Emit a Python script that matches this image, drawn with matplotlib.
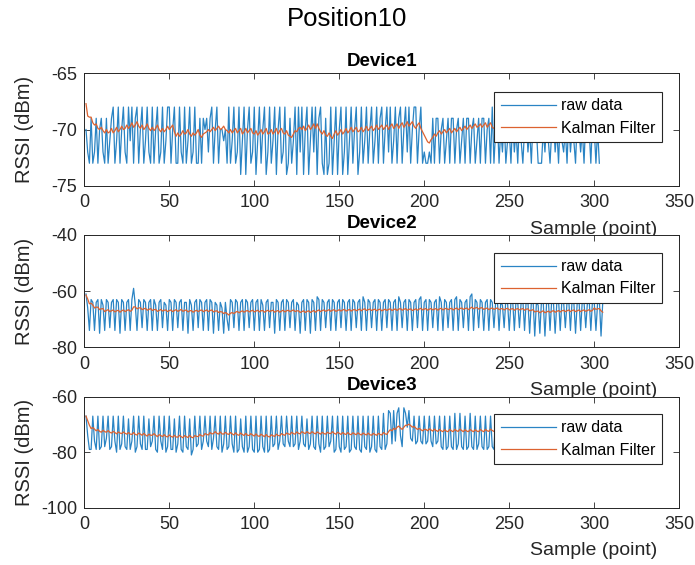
import numpy as np
import matplotlib
matplotlib.use("Agg")
import matplotlib.pyplot as plt

plt.rcParams['font.family'] = ['Liberation Sans', 'DejaVu Sans']
plt.rcParams['axes.unicode_minus'] = False

# ---- data ----
devices = ['Device1', 'Device2', 'Device3']

d1_raw = [
    -70, -72, -73, -69, -73, -72, -69, -73, -70, -69,
    -72, -73, -69, -73, -71, -69, -68, -73, -71, -68,
    -73, -70, -68, -72, -73, -68, -71, -68, -73, -69,
    -68, -73, -70, -68, -73, -71, -68, -72, -73, -68,
    -73, -70, -68, -73, -72, -68, -73, -71, -68, -68,
    -73, -70, -68, -73, -73, -68, -72, -73, -68, -73,
    -71, -68, -73, -72, -68, -73, -73, -69, -73, -69,
    -70, -69, -72, -69, -68, -73, -70, -68, -73, -70,
    -70, -71, -70, -73, -68, -73, -71, -68, -73, -72,
    -68, -74, -71, -68, -74, -70, -68, -73, -72, -68,
    -74, -71, -68, -73, -70, -68, -74, -72, -68, -73,
    -71, -68, -74, -70, -68, -73, -72, -68, -74, -73,
    -69, -73, -71, -68, -74, -68, -72, -68, -74, -70,
    -68, -74, -71, -68, -72, -68, -74, -69, -68, -73,
    -74, -69, -74, -73, -68, -74, -71, -68, -74, -70,
    -68, -74, -72, -68, -74, -71, -68, -73, -70, -68,
    -74, -72, -68, -73, -71, -68, -73, -70, -68, -73,
    -71, -68, -73, -69, -68, -73, -70, -68, -72, -68,
    -73, -71, -68, -73, -69, -68, -73, -70, -68, -72,
    -68, -73, -70, -68, -68, -73, -70, -68, -73, -72,
    -73, -73, -72, -73, -69, -73, -69, -69, -73, -70,
    -69, -73, -71, -69, -73, -69, -69, -73, -70, -69,
    -73, -71, -69, -73, -69, -69, -73, -70, -69, -73,
    -71, -69, -73, -69, -69, -73, -70, -69, -73, -68,
    -73, -70, -69, -73, -70, -72, -69, -73, -71, -70,
    -73, -69, -72, -70, -73, -69, -71, -73, -70, -69,
    -72, -70, -73, -69, -71, -70, -73, -73, -73, -70,
    -72, -69, -71, -73, -70, -69, -72, -70, -73, -69,
    -71, -72, -70, -73, -69, -72, -70, -71, -73, -69,
    -70, -72, -70, -73, -69, -71, -70, -73, -69, -70,
    -73, -70, -73,
]

d1_kalman = [
    -67.7, -68.8, -68.9, -68.9, -69.4, -69.6, -69.5, -69.9, -70.0, -69.8,
    -70.1, -70.3, -70.0, -70.3, -70.2, -69.9, -70.3, -70.1, -69.8, -70.2,
    -70.0, -69.7, -70.0, -69.9, -69.6, -69.9, -69.7, -69.4, -69.8, -69.6,
    -69.3, -69.7, -69.9, -69.6, -70.0, -69.8, -69.5, -69.9, -70.1, -69.8,
    -70.1, -69.9, -69.6, -70.0, -70.2, -69.9, -70.2, -70.0, -69.7, -70.0,
    -69.8, -69.6, -70.2, -70.6, -70.3, -70.6, -70.4, -70.1, -70.4, -70.3,
    -70.0, -70.4, -70.6, -70.3, -70.5, -70.3, -70.0, -70.5, -70.7, -70.4,
    -70.3, -70.2, -70.0, -70.2, -70.0, -69.8, -70.1, -69.9, -69.7, -70.0,
    -69.9, -69.7, -70.0, -70.1, -70.3, -70.0, -70.3, -70.1, -69.9, -70.3,
    -70.1, -69.9, -70.4, -70.2, -69.9, -70.3, -70.1, -69.9, -70.3, -70.4,
    -70.1, -70.5, -70.3, -70.0, -70.4, -70.2, -69.9, -70.4, -70.3, -70.0,
    -70.4, -70.2, -69.9, -70.4, -70.1, -69.9, -70.3, -70.4, -70.1, -70.5,
    -70.6, -70.7, -70.4, -70.1, -70.2, -69.9, -69.8, -70.0, -69.7, -70.1,
    -69.9, -69.6, -70.0, -69.8, -69.5, -69.9, -69.5, -69.9, -70.2, -70.4,
    -70.1, -70.5, -70.6, -70.3, -70.6, -70.8, -70.4, -70.1, -70.5, -70.3,
    -70.0, -70.4, -70.2, -69.9, -70.3, -70.1, -69.8, -70.2, -70.0, -69.8,
    -70.2, -70.1, -69.8, -70.2, -70.0, -69.7, -70.1, -69.9, -69.7, -70.1,
    -69.9, -69.6, -70.0, -69.8, -69.6, -70.0, -69.8, -69.6, -70.0, -69.7,
    -69.5, -69.9, -69.7, -69.5, -69.9, -69.6, -69.4, -69.8, -69.6, -69.3,
    -69.7, -69.5, -69.3, -69.7, -69.9, -69.6, -69.4, -69.9, -70.2, -70.5,
    -70.8, -71.1, -71.2, -70.9, -70.7, -70.4, -70.6, -70.3, -70.1, -70.4,
    -70.2, -70.0, -70.3, -70.1, -69.9, -70.3, -70.1, -69.9, -70.2, -70.0,
    -69.8, -70.1, -69.9, -69.7, -70.0, -69.8, -69.6, -69.9, -69.7, -69.5,
    -69.8, -69.7, -69.5, -69.8, -69.6, -69.4, -69.8, -69.6, -69.4, -69.8,
    -69.9, -69.7, -70.0, -70.2, -69.9, -70.2, -70.0, -69.8, -70.2, -70.0,
    -70.3, -70.1, -69.9, -70.2, -70.0, -70.3, -70.1, -69.9, -70.2, -70.0,
    -70.3, -70.1, -70.4, -70.2, -70.5, -70.6, -70.7, -70.4, -70.2, -70.5,
    -70.3, -70.1, -70.4, -70.2, -70.0, -70.3, -70.1, -69.9, -70.2, -70.0,
    -70.3, -70.1, -70.4, -70.2, -70.0, -70.3, -70.1, -70.4, -70.2, -70.0,
    -70.3, -70.1, -70.4, -70.2, -70.0, -70.3, -70.1, -70.4, -70.2, -70.0,
    -70.3, -70.1, -70.2,
]

d2_raw = [
    -61, -66, -74, -63, -64, -74, -64, -63, -75, -63,
    -65, -74, -63, -64, -73, -64, -63, -74, -63, -64,
    -75, -63, -64, -74, -64, -63, -74, -63, -59, -65,
    -74, -63, -64, -73, -63, -64, -74, -64, -63, -74,
    -63, -65, -74, -64, -63, -73, -64, -65, -74, -63,
    -64, -74, -63, -64, -73, -64, -63, -74, -64, -64,
    -75, -63, -65, -74, -64, -63, -73, -63, -64, -74,
    -64, -63, -74, -63, -64, -75, -64, -65, -74, -64,
    -66, -75, -64, -70, -74, -63, -64, -73, -63, -64,
    -74, -64, -63, -74, -63, -64, -73, -64, -63, -74,
    -64, -63, -74, -63, -65, -74, -64, -63, -73, -64,
    -64, -75, -63, -64, -74, -64, -63, -74, -63, -64,
    -73, -64, -63, -74, -64, -65, -75, -64, -63, -74,
    -63, -64, -75, -63, -64, -74, -62, -63, -74, -63,
    -64, -73, -64, -63, -74, -63, -64, -74, -64, -63,
    -73, -63, -64, -74, -64, -63, -74, -63, -64, -73,
    -64, -63, -74, -62, -64, -74, -63, -64, -73, -64,
    -63, -74, -63, -64, -74, -64, -63, -73, -63, -64,
    -74, -64, -63, -74, -62, -64, -73, -64, -63, -74,
    -63, -64, -74, -64, -63, -73, -63, -62, -74, -64,
    -63, -74, -63, -64, -73, -64, -63, -74, -62, -64,
    -74, -63, -64, -73, -64, -63, -74, -63, -62, -74,
    -63, -64, -73, -64, -63, -74, -62, -61, -74, -63,
    -64, -73, -63, -64, -74, -64, -63, -74, -63, -64,
    -73, -64, -63, -74, -64, -65, -73, -63, -64, -74,
    -64, -63, -74, -63, -64, -73, -64, -63, -74, -63,
    -64, -75, -64, -63, -76, -64, -65, -75, -63, -64,
    -76, -64, -63, -74, -63, -64, -75, -64, -63, -74,
    -63, -64, -73, -64, -63, -74, -63, -64, -75, -64,
    -63, -74, -63, -64, -73, -64, -63, -74, -63, -64,
    -74, -64, -63, -76, -64,
]

d2_kalman = [
    -61.4, -62.8, -64.5, -64.3, -64.9, -66.0, -65.7, -65.7, -66.6, -66.3,
    -66.2, -67.3, -66.9, -66.6, -67.3, -67.0, -66.7, -67.4, -67.0, -66.8,
    -67.5, -67.0, -66.7, -67.3, -66.9, -66.6, -67.2, -66.8, -65.6, -65.6,
    -66.3, -66.0, -65.9, -66.6, -66.3, -66.1, -66.8, -66.5, -66.2, -66.9,
    -66.6, -66.5, -67.2, -66.9, -66.5, -67.1, -66.8, -66.7, -67.3, -66.9,
    -66.7, -67.3, -66.9, -66.6, -67.2, -66.9, -66.5, -67.2, -66.9, -66.7,
    -67.4, -67.0, -66.9, -67.5, -67.1, -66.8, -67.3, -66.9, -66.7, -67.3,
    -67.0, -66.7, -67.3, -66.9, -66.7, -67.4, -67.1, -67.0, -67.6, -67.3,
    -67.4, -68.0, -67.6, -68.0, -68.5, -67.9, -67.6, -68.0, -67.5, -67.2,
    -67.7, -67.3, -67.0, -67.5, -67.1, -66.9, -67.4, -67.1, -66.8, -67.4,
    -67.1, -66.8, -67.4, -67.0, -66.9, -67.5, -67.1, -66.8, -67.3, -67.0,
    -66.8, -67.5, -67.1, -66.9, -67.5, -67.1, -66.8, -67.4, -67.0, -66.8,
    -67.3, -67.0, -66.7, -67.3, -67.0, -67.0, -67.6, -67.3, -67.0, -67.6,
    -67.2, -67.0, -67.6, -67.2, -66.9, -67.5, -67.0, -66.7, -67.3, -66.9,
    -66.7, -67.2, -66.9, -66.6, -67.2, -66.8, -66.6, -67.2, -66.9, -66.6,
    -67.1, -66.7, -66.5, -67.1, -66.8, -66.5, -67.1, -66.7, -66.5, -67.0,
    -66.7, -66.4, -67.0, -66.5, -66.3, -66.9, -66.6, -66.4, -66.9, -66.6,
    -66.4, -67.0, -66.6, -66.4, -67.0, -66.7, -66.4, -66.9, -66.5, -66.3,
    -66.9, -66.6, -66.3, -66.9, -66.4, -66.2, -66.8, -66.5, -66.2, -66.8,
    -66.5, -66.3, -66.9, -66.6, -66.3, -66.8, -66.4, -66.1, -66.7, -66.4,
    -66.2, -66.8, -66.4, -66.2, -66.7, -66.4, -66.2, -66.8, -66.3, -66.1,
    -66.7, -66.3, -66.1, -66.6, -66.3, -66.1, -66.7, -66.3, -66.0, -66.6,
    -66.2, -66.0, -66.5, -66.2, -66.0, -66.6, -66.1, -65.7, -66.3, -66.0,
    -65.8, -66.4, -66.0, -65.9, -66.5, -66.2, -66.0, -66.6, -66.2, -66.0,
    -66.5, -66.2, -66.0, -66.6, -66.3, -66.2, -66.7, -66.3, -66.1, -66.7,
    -66.4, -66.2, -66.8, -66.4, -66.2, -66.7, -66.4, -66.2, -66.8, -66.4,
    -66.3, -67.0, -66.8, -66.6, -67.4, -67.2, -67.1, -67.7, -67.3, -67.0,
    -67.7, -67.4, -67.1, -67.6, -67.2, -66.9, -67.5, -67.2, -66.9, -67.4,
    -67.0, -66.8, -67.3, -67.0, -66.7, -67.3, -66.9, -66.7, -67.3, -67.0,
    -66.7, -67.3, -66.9, -66.7, -67.2, -66.9, -66.6, -67.2, -66.8, -66.0,
    -66.5, -66.3, -66.2, -67.0, -67.5,
]

d3_raw = [
    -67, -74, -79, -79, -67, -76, -79, -67, -79, -78,
    -67, -78, -75, -67, -79, -78, -67, -76, -80, -67,
    -79, -77, -67, -78, -79, -68, -79, -76, -67, -80,
    -78, -67, -77, -79, -67, -79, -79, -68, -78, -76,
    -67, -79, -80, -67, -76, -79, -67, -80, -78, -67,
    -79, -79, -68, -80, -77, -67, -79, -80, -67, -78,
    -79, -68, -81, -79, -67, -78, -77, -67, -79, -76,
    -67, -76, -78, -67, -79, -75, -67, -78, -79, -67,
    -80, -77, -67, -79, -78, -67, -77, -80, -67, -80,
    -79, -68, -78, -80, -67, -80, -78, -67, -79, -80,
    -67, -80, -79, -67, -78, -80, -67, -80, -79, -67,
    -78, -77, -67, -79, -76, -67, -77, -78, -67, -76,
    -78, -67, -78, -77, -67, -79, -76, -67, -77, -78,
    -68, -79, -77, -67, -78, -79, -67, -77, -80, -67,
    -79, -78, -67, -78, -76, -67, -80, -79, -67, -78,
    -80, -67, -79, -78, -67, -80, -79, -67, -78, -79,
    -67, -79, -80, -67, -78, -79, -67, -80, -78, -67,
    -79, -80, -67, -78, -79, -66, -79, -77, -65, -66,
    -77, -65, -76, -66, -64, -74, -78, -64, -66, -71,
    -65, -75, -76, -67, -77, -76, -67, -76, -77, -67,
    -77, -76, -67, -76, -78, -67, -77, -76, -67, -78,
    -79, -67, -79, -78, -67, -78, -79, -66, -79, -77,
    -66, -78, -79, -67, -79, -78, -66, -78, -79, -67,
    -79, -77, -67, -78, -79, -67, -79, -78, -67, -78,
    -79, -67, -78, -79, -67, -79, -78, -67, -78, -79,
    -67, -79, -78, -67, -78, -79, -67, -79, -78, -67,
    -78, -79, -67, -79, -78, -67, -78, -79, -67, -79,
    -78, -67, -78, -79, -67, -79, -78, -67, -78, -79,
    -67, -79, -78, -67, -78, -79, -67, -79, -78, -67,
    -78, -79, -67, -79, -78, -67, -78, -79, -67, -79,
    -78, -67, -78, -79, -67,
]

d3_kalman = [
    -67.0, -68.6, -70.3, -71.5, -71.1, -71.7, -72.3, -71.8, -72.5, -72.8,
    -72.1, -72.6, -72.8, -72.2, -72.8, -73.1, -72.5, -72.9, -73.4, -72.7,
    -73.1, -73.3, -72.7, -73.2, -73.5, -72.9, -73.5, -73.6, -72.9, -73.6,
    -73.8, -73.1, -73.5, -73.9, -73.2, -73.8, -74.2, -73.5, -73.9, -73.9,
    -73.3, -73.9, -74.4, -73.7, -74.0, -74.4, -73.7, -74.3, -74.5, -73.8,
    -74.3, -74.6, -73.9, -74.5, -74.6, -73.9, -74.4, -74.8, -74.0, -74.4,
    -74.7, -73.9, -74.6, -74.8, -74.0, -74.3, -74.4, -73.6, -74.1, -74.2,
    -73.3, -73.6, -73.8, -72.9, -73.4, -73.3, -72.6, -73.2, -73.5, -72.7,
    -73.4, -73.5, -72.8, -73.4, -73.6, -72.9, -73.4, -73.8, -73.0, -73.7,
    -73.9, -73.1, -73.6, -74.0, -73.2, -73.9, -74.0, -73.3, -73.8, -74.2,
    -73.4, -74.1, -74.3, -73.5, -74.0, -74.4, -73.6, -74.3, -74.5, -73.7,
    -74.1, -74.3, -73.5, -74.0, -74.1, -73.3, -73.7, -73.9, -73.1, -73.4,
    -73.6, -72.8, -73.3, -73.5, -72.7, -73.2, -73.4, -72.6, -73.0, -73.3,
    -72.6, -73.1, -73.3, -72.6, -73.1, -73.4, -72.7, -73.1, -73.5, -72.8,
    -73.3, -73.5, -72.8, -73.2, -73.3, -72.6, -73.2, -73.5, -72.8, -73.2,
    -73.6, -72.9, -73.4, -73.6, -72.9, -73.5, -73.7, -73.0, -73.4, -73.7,
    -73.0, -73.5, -73.8, -73.1, -73.5, -73.8, -73.1, -73.7, -73.9, -73.2,
    -73.6, -73.9, -73.2, -73.6, -73.8, -72.9, -73.4, -73.6, -72.6, -71.9,
    -72.3, -71.4, -71.8, -71.0, -70.6, -71.3, -71.8, -71.0, -70.3, -70.3,
    -69.9, -70.4, -71.0, -70.7, -71.3, -71.8, -71.4, -71.9, -72.3, -71.8,
    -71.8, -72.3, -71.6, -72.0, -72.4, -71.7, -72.2, -72.5, -71.8, -72.3,
    -72.6, -71.9, -72.4, -72.6, -71.8, -72.3, -72.6, -71.8, -72.3, -72.5,
    -71.7, -72.2, -72.6, -71.9, -72.4, -72.6, -71.8, -72.3, -72.6, -71.9,
    -72.4, -72.6, -71.8, -72.3, -72.6, -71.8, -72.3, -72.5, -71.7, -72.2,
    -72.5, -71.9, -72.4, -72.6, -71.9, -72.4, -72.6, -71.9, -72.4, -72.6,
    -71.9, -72.4, -72.6, -71.9, -72.4, -72.6, -71.9, -72.4, -72.6, -71.9,
    -72.4, -72.6, -71.9, -72.4, -72.6, -71.9, -72.4, -72.6, -71.9, -72.4,
    -72.6, -71.9, -72.4, -72.6, -71.9, -72.4, -72.6, -71.9, -72.4, -72.6,
    -71.9, -72.4, -72.6, -71.9, -72.4, -72.6, -71.9, -72.4, -72.6, -71.9,
    -72.4, -72.6, -71.9, -72.4, -72.6, -71.9, -72.4, -72.6, -71.9, -72.4,
    -72.6, -71.9, -72.4, -72.6, -71.9,
]

raw_series = [d1_raw, d2_raw, d3_raw]
kalman_series = [d1_kalman, d2_kalman, d3_kalman]
y_limits = [(-75, -65), (-80, -40), (-100, -60)]
y_ticks = [[-75, -70, -65], [-80, -60, -40], [-100, -80, -60]]
x_ticks = [0, 50, 100, 150, 200, 250, 300, 350]

# ---- figure ----
blue = '#2a84c4'
orange = '#dc6230'
dark = '#262626'

fig = plt.figure(figsize=(6.95, 5.65), dpi=100)
fig.text(0.5, 0.966, 'Position10', ha='center', va='center', fontsize=18.5, color='black')

positions = [[0.1213, 0.6713, 0.856, 0.1989],
             [0.1213, 0.3853, 0.856, 0.1988],
             [0.1213, 0.1014, 0.856, 0.1965]]
legend_tops = [0.834, 0.842, 0.844]

for i in range(3):
    ax = fig.add_axes(positions[i])
    raw = raw_series[i]
    kal = kalman_series[i]
    ax.plot(np.arange(1, len(raw) + 1), raw, color=blue, lw=0.9, label='raw data')
    ax.plot(np.arange(1, len(kal) + 1), kal, color=orange, lw=0.9, label='Kalman Filter')

    ax.set_xlim(0, 350)
    ax.set_ylim(*y_limits[i])
    ax.set_xticks(x_ticks)
    ax.set_yticks(y_ticks[i])
    ax.tick_params(direction='in', top=True, right=True, length=4.5, width=0.6,
                   labelsize=13, colors=dark)
    ax.tick_params(axis='x', pad=6)
    ax.tick_params(axis='y', pad=5)
    for sp in ax.spines.values():
        sp.set_color(dark)
        sp.set_linewidth(0.7)

    ax.set_title(devices[i], fontsize=13.5, fontweight='bold', pad=5)
    ax.set_ylabel('RSSI (dBm)', fontsize=14.5, color=dark)
    ax.yaxis.set_label_coords(-0.085, 0.5)
    ax.set_xlabel('Sample (point)', fontsize=14, color=dark)
    ax.xaxis.set_label_coords(0.856, -0.31)

    leg = ax.legend(loc='upper right', bbox_to_anchor=(0.971, legend_tops[i]),
                    borderaxespad=0, fontsize=11.5, fancybox=False, framealpha=1,
                    edgecolor=dark, handlelength=3.5, handletextpad=0.3,
                    borderpad=0.4, labelspacing=0.45)
    leg.get_frame().set_linewidth(0.8)

fig.savefig('out.png', dpi=100)
